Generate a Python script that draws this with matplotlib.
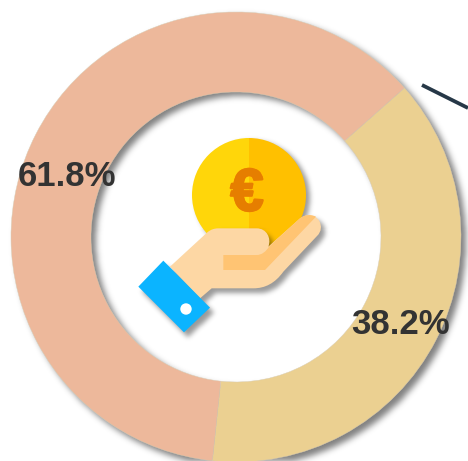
import matplotlib
matplotlib.use("Agg")
import matplotlib.pyplot as plt
import matplotlib.patheffects as pe
import numpy as np
from matplotlib.patches import Circle, Wedge, Polygon, PathPatch, Rectangle
from matplotlib.path import Path

shares = [38.2, 61.8]
labels = ["38.2%", "61.8%"]
slice_colors = ["#EBD091", "#EDB89B"]

W, H = 468, 461
fig = plt.figure(figsize=(W / 100, H / 100), dpi=100, facecolor="white")
ax = fig.add_axes([0, 0, 1, 1])
CX, CY, R, HOLE = 236, 237, 225, 145

def Y(y):
    return H - y

def Z(zx, zy):
    return (120 + zx / 3, H - (120 + zy / 3))

def curve(cmds):
    verts, codes = [], []
    for c, pts in cmds:
        for p in pts:
            verts.append(Z(*p))
        codes += {"M": [Path.MOVETO], "L": [Path.LINETO], "C": [Path.CURVE4] * 3,
                  "Z": [Path.CLOSEPOLY]}[c]
    return Path(verts, codes)

gx, gy = np.meshgrid(np.arange(W) + 0.5, np.arange(H) + 0.5)
grid = np.column_stack([gx.ravel(), gy.ravel()])

def soft_shadow(path, dx=4, dy=4, sigma=3.0, alpha=0.45, z=1):
    moved = Path(path.vertices + [dx, -dy], path.codes)
    mask = moved.contains_points(grid).reshape(H, W).astype(float)
    k = np.exp(-0.5 * (np.arange(-12, 13) / sigma) ** 2)
    k /= k.sum()
    mask = np.apply_along_axis(lambda v: np.convolve(v, k, mode="same"), 0, mask)
    mask = np.apply_along_axis(lambda v: np.convolve(v, k, mode="same"), 1, mask)
    rgba = np.zeros((H, W, 4))
    rgba[..., 3] = mask * alpha
    ax.imshow(rgba, extent=(0, W, 0, H), origin="lower", interpolation="nearest", zorder=z)

def patch_path(p):
    return p.get_path().transformed(p.get_patch_transform())

# ring shadow (outer and inner edges)
ring_mask = patch_path(Wedge((CX, Y(CY)), R, 0, 359.99, width=R - HOLE))
soft_shadow(ring_mask, dx=5, dy=5, sigma=3.2, alpha=0.5, z=1)

# donut
wedges, _ = ax.pie(shares, colors=slice_colors, startangle=41.5, counterclock=False,
                   radius=R, center=(CX, Y(CY)), frame=True,
                   wedgeprops=dict(width=R - HOLE, edgecolor="#D9CDB4", linewidth=0.3))
for w in wedges:
    w.set_zorder(2)

ax.plot([422, 468], [Y(85), Y(108)], color="#263847", lw=2.7, solid_capstyle="butt", zorder=2)

# coin
cx, cy, r = 249, 195, 57
soft_shadow(patch_path(Circle((cx, Y(cy)), r)), dx=4, dy=4, sigma=2.5, alpha=0.4, z=3)
ax.add_patch(Wedge((cx, Y(cy)), r, 90, 270, facecolor="#FFD60A", edgecolor="none", zorder=4))
ax.add_patch(Wedge((cx, Y(cy)), r, -90, 90, facecolor="#FFC000", edgecolor="none", zorder=4))
clipL = Rectangle((190, Y(240)), cx - 190, 80, transform=ax.transData)
clipR = Rectangle((cx, Y(240)), 60, 80, transform=ax.transData)
for col, clip in (("#FF8A00", clipL), ("#E67E00", clipR)):
    t = ax.text(247, Y(195), "€", fontsize=43, fontweight="bold", family="Liberation Sans",
                color=col, ha="center", va="center", zorder=5,
                path_effects=[pe.withStroke(linewidth=1.5, foreground=col)])
    t.set_clip_path(clip)

# hand
hand = [("M", [(150, 440)]), ("L", [(262, 337)]), ("C", [(272, 329), (282, 325), (295, 325)]),
        ("L", [(410, 325)]), ("C", [(440, 325), (455, 355), (445, 380)]),
        ("L", [(540, 295)]), ("C", [(560, 280), (585, 282), (598, 303)]),
        ("C", [(606, 318), (604, 335), (592, 347)]), ("L", [(490, 455)]),
        ("C", [(465, 490), (435, 505), (400, 505)]), ("L", [(275, 505)]),
        ("L", [(240, 535)]), ("Z", [(150, 440)])]
band = [("M", [(310, 405)]), ("L", [(410, 405)]), ("C", [(425, 405), (438, 395), (447, 380)]),
        ("L", [(540, 295)]), ("C", [(555, 283), (572, 283), (588, 290)]),
        ("L", [(435, 450)]), ("L", [(310, 450)]), ("Z", [(310, 405)])]
cuff = [Z(130, 422), Z(270, 563), Z(192, 637), Z(55, 500)]

hand_path = curve(hand)
soft_shadow(hand_path, dx=4, dy=5, sigma=2.5, alpha=0.4, z=6)
soft_shadow(Path(cuff + [cuff[0]], closed=True), dx=4, dy=5, sigma=2.5, alpha=0.4, z=6)
ax.add_patch(PathPatch(hand_path, facecolor="#FDD7A4", edgecolor="none", zorder=7))
ax.add_patch(PathPatch(curve(band), facecolor="#FFC473", edgecolor="none", zorder=8))
ax.add_patch(Polygon(cuff, facecolor="#0BB4FF", edgecolor="none", zorder=9))
ax.add_patch(Circle(Z(198, 567), 5.7, facecolor="white", edgecolor="none", zorder=10))

# labels
ax.text(67, Y(177), labels[1], fontsize=25, fontweight="bold", family="Liberation Sans",
        color="#333333", ha="center", va="center", zorder=11)
ax.text(400.5, Y(324), labels[0], fontsize=25, fontweight="bold", family="Liberation Sans",
        color="#333333", ha="center", va="center", zorder=11)

ax.set_xlim(0, W)
ax.set_ylim(0, H)
ax.set_aspect("auto")
ax.axis("off")
fig.savefig("out.png", dpi=100, facecolor="white")
